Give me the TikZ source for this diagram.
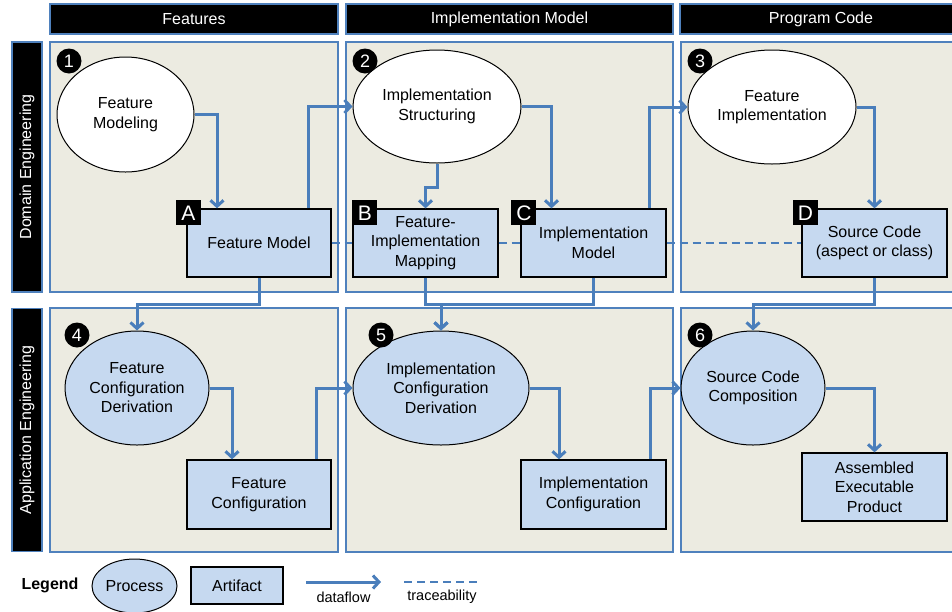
\documentclass[tikz,border=0pt]{standalone}
\usepackage{fontspec}
\setmainfont{Liberation Sans}
\usetikzlibrary{shapes.geometric,arrows.meta}

\definecolor{panelfill}{HTML}{ECEBE1}
\definecolor{panelline}{HTML}{4F81BD}
\definecolor{artfill}{HTML}{C6D9F0}
\definecolor{flowblue}{HTML}{4A7EBB}

\begin{document}
\begin{tikzpicture}[x=1pt, y=-1pt,
    font=\fontsize{16}{19.5}\selectfont,
    panel/.style={draw=panelline, fill=panelfill, line width=1.3pt},
    headbar/.style={draw=panelline, fill=black, line width=1.3pt, text=white, inner sep=0pt},
    process/.style={ellipse, draw=black, line width=1pt, fill=artfill, align=center, inner sep=0pt},
    artifact/.style={rectangle, draw=black, line width=1.3pt, fill=artfill, align=center, inner sep=0pt},
    tag/.style={rectangle, fill=black, text=white, minimum size=25pt, inner sep=0pt, font=\fontsize{21}{21}\selectfont},
    stepnum/.style={circle, fill=black, text=white, minimum size=25pt, inner sep=0pt, font=\fontsize{18}{18}\selectfont},
    flow/.style={draw=flowblue, line width=3pt, -{Straight Barb[length=6pt,width=13pt]}},
    trace/.style={draw=flowblue, line width=1.1pt, dash pattern=on 8pt off 5pt}
    ]
        \useasboundingbox (0,0) rectangle (952,611);

        %Panels
        \foreach \xa/\xb in {50/338, 346/673, 681/960}
            \foreach \ya/\yb in {42/292, 308/552}
                \draw[panel] (\xa,\ya) rectangle (\xb,\yb);

        %Headers
        \node[headbar, minimum width=288pt, minimum height=30pt]
            (hfeat) at (194,19) {Features};
        \node[headbar, minimum width=327pt, minimum height=30pt]
            (himpl) at (509.5,19) {Implementation Model};
        \node[headbar, minimum width=282pt, minimum height=30pt]
            (hcode) at (821,19) {Program Code};
        \node[headbar, rotate=90, minimum width=250pt, minimum height=30pt]
            (hdom) at (27,167) {Domain Engineering};
        \node[headbar, rotate=90, minimum width=243pt, minimum height=30pt]
            (happ) at (27,430) {Application Engineering};

        %Processes
        \node[process, fill=white, minimum width=137pt, minimum height=115pt]
            (fmod) at (125.5,114.5) {Feature\\Modeling};
        \node[process, fill=white, minimum width=168pt, minimum height=113pt]
            (istr) at (437,106.5) {Implementation\\Structuring};
        \node[process, fill=white, minimum width=168pt, minimum height=114pt]
            (fimp) at (772,107) {Feature\\Implementation};
        \node[process, minimum width=144pt, minimum height=114pt]
            (fcd) at (137,388) {Feature\\Configuration\\Derivation};
        \node[process, minimum width=176pt, minimum height=114pt]
            (icd) at (441,388) {Implementation\\Configuration\\Derivation};
        \node[process, minimum width=144pt, minimum height=114pt]
            (scc) at (753,388) {Source Code\\Composition};

        %Artifacts
        \node[artifact, minimum width=144pt, minimum height=68pt]
            (fm) at (259,243) {Feature Model};
        \node[artifact, minimum width=145pt, minimum height=68pt]
            (fim) at (425.5,243) {Feature-\\Implementation\\Mapping};
        \node[artifact, minimum width=145pt, minimum height=68pt]
            (im) at (593.5,243) {Implementation\\Model};
        \node[artifact, minimum width=145pt, minimum height=68pt]
            (src) at (874.5,243) {Source Code\\(aspect or class)};
        \node[artifact, minimum width=144pt, minimum height=69pt]
            (fc) at (259,494.5) {Feature\\Configuration};
        \node[artifact, minimum width=145pt, minimum height=69pt]
            (ic) at (593.5,494.5) {Implementation\\Configuration};
        \node[artifact, minimum width=145pt, minimum height=68pt]
            (aep) at (874.5,487) {Assembled\\Executable\\Product};

        %Tags
        \node[tag] (tagA) at ([xshift=2pt, yshift=-4.5pt]fm.north west) {A};
        \node[tag] (tagB) at ([xshift=12.5pt, yshift=-4.5pt]fim.north west) {B};
        \node[tag] (tagC) at ([xshift=3.5pt, yshift=-4.5pt]im.north west) {C};
        \node[tag] (tagD) at ([xshift=4pt, yshift=-4.5pt]src.north west) {D};

        %Steps
        \node[stepnum] (s1) at (69,61) {1};
        \node[stepnum] (s2) at (365,61) {2};
        \node[stepnum] (s3) at (700,61) {3};
        \node[stepnum] (s4) at (77,335) {4};
        \node[stepnum] (s5) at (381,335) {5};
        \node[stepnum] (s6) at (700,335) {6};

        %Traceability
        \draw[trace] (fm.east) -- (fim.west);
        \draw[trace] (fim.east) -- (im.west);
        \draw[trace] (im.east) -- (src.west);

        %Dataflow
        \draw[flow] (fmod.east) -| ([xshift=-42pt]fm.north);
        \draw[flow] ([xshift=49pt]fm.north) |- (istr.west);
        \draw[flow] (istr.south) -- ++(0,24) -| (fim.north);
        \draw[flow] (istr.east) -| ([xshift=-42pt]im.north);
        \draw[flow] ([xshift=56pt]im.north) |- (fimp.west);
        \draw[flow] (fimp.east) -| (src.north);
        \draw[flow] (fm.south) -- ++(0,27) -| (fcd.north);
        \draw[flow] (fim.south) -- ++(0,27) -| (icd.north);
        \draw[flow] (im.south) -- ++(0,27) -| (icd.north);
        \draw[flow] (src.south) -- ++(0,27) -| (scc.north);
        \draw[flow] (fcd.east) -| ([xshift=-27pt]fc.north);
        \draw[flow] ([xshift=57pt]fc.north) |- (icd.west);
        \draw[flow] (icd.east) -| ([xshift=-34.5pt]ic.north);
        \draw[flow] ([xshift=56.5pt]ic.north) |- (scc.west);
        \draw[flow] (scc.east) -| (aep.north);

        %Legend
        \node[font=\fontsize{16}{16}\selectfont\bfseries] (leg) at (50,585) {Legend};
        \node[process, minimum width=85pt, minimum height=54pt] (legproc) at (134.5,586) {Process};
        \node[artifact, minimum width=92pt, minimum height=37pt] (legart) at (237,585.5) {Artifact};
        \coordinate (dfa) at (306,582);
        \coordinate (dfb) at (381,582);
        \draw[flow] (dfa) -- (dfb);
        \node[font=\fontsize{14.5}{14.5}\selectfont] (dflab) at (343.5,597) {dataflow};
        \coordinate (tra) at (404,582);
        \coordinate (trb) at (481,582);
        \draw[trace] (tra) -- (trb);
        \node[font=\fontsize{14.5}{14.5}\selectfont] (trlab) at (442,597) {traceability};
    \end{tikzpicture}
\end{document}
